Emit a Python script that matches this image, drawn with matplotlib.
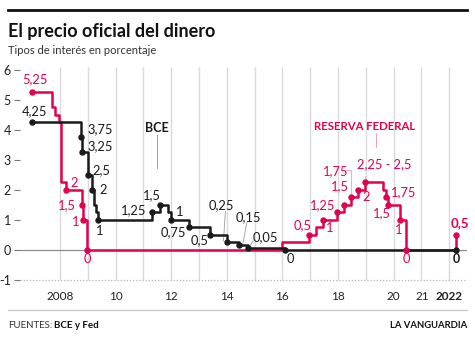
import matplotlib.pyplot as plt

plt.rcParams['font.family'] = ['Lato', 'DejaVu Sans']

RED = '#e3004f'
BLACK = '#1a1a1a'

# Tipos del BCE (fecha en años decimales, tipo en %)
ecb_x = [2007.0, 2008.75, 2008.8, 2009.02, 2009.15, 2009.24, 2009.3, 2009.36, 2011.32, 2011.6,
         2011.88, 2011.99, 2012.65, 2013.4, 2014.0, 2014.45, 2014.75, 2016.08, 2022.25]
ecb_y = [4.25, 3.75, 3.25, 2.5, 2.0, 1.5, 1.25, 1.0, 1.25, 1.5,
         1.25, 1.0, 0.75, 0.5, 0.25, 0.15, 0.05, 0, 0]
ecb_dots = [0, 1, 2, 3, 4, 7, 8, 9, 11, 12, 13, 14, 15, 16, 17, 18]

# Tipos de la Reserva Federal (limite inferior)
fed_x = [2007.0, 2007.72, 2007.82, 2007.96, 2008.04, 2008.2, 2008.8, 2008.84, 2008.96,
         2015.98, 2016.96, 2017.2, 2017.46, 2017.96, 2018.21, 2018.46, 2018.71, 2018.96,
         2019.63, 2019.72, 2019.8, 2020.23, 2020.45, 2022.25]
fed_y = [5.25, 4.75, 4.5, 4.25, 2.25, 2.0, 1.5, 1.0, 0,
         0.25, 0.5, 0.75, 1.0, 1.25, 1.5, 1.75, 2.0, 2.25,
         2.0, 1.75, 1.5, 1.0, 0, 0.5]
fed_dots = [0, 5, 6, 7, 8, 10, 12, 13, 14, 15, 16, 17, 19, 20, 21, 22, 23]

grid_years = list(range(2008, 2023))
xtick_pos = [2008, 2010, 2012, 2014, 2016, 2018, 2020, 2021.05, 2021.98]
xtick_lab = ['2008', '10', '12', '14', '16', '18', '20', '21', '2022']

# etiquetas: (texto, x, y)
ecb_labels = [('4,25', 2007.10, 4.63), ('3,75', 2009.44, 4.02), ('3,25', 2009.44, 3.47),
              ('2,5', 2009.5, 2.67), ('2', 2009.54, 1.98), ('1', 2009.41, 0.64),
              ('1,25', 2010.64, 1.31), ('1,5', 2011.30, 1.83), ('1', 2012.29, 1.28),
              ('0,75', 2012.08, 0.58), ('0,5', 2013.01, 0.33), ('0,25', 2013.82, 1.48),
              ('0,15', 2014.77, 1.09), ('0,05', 2015.37, 0.44), ('0', 2016.30, -0.31)]
fed_labels = [('5,25', 2007.10, 5.70), ('2', 2008.52, 2.22), ('1,5', 2008.24, 1.5),
              ('1', 2008.56, 0.94), ('0', 2008.98, -0.31), ('0,5', 2016.73, 0.83),
              ('1', 2017.71, 0.72), ('1,25', 2017.45, 1.5), ('1,5', 2018.07, 2.11),
              ('1,75', 2017.93, 2.61), ('2,25 - 2,5', 2019.65, 2.87), ('2', 2019.01, 1.76),
              ('1,75', 2020.35, 1.94), ('1,5', 2019.57, 1.22), ('1', 2020.17, 0.67),
              ('0', 2020.47, -0.31)]

fig = plt.figure(figsize=(4.75, 3.38), dpi=100)
W, H = 475, 338
ax = fig.add_axes([20 / W, (H - 285) / H, 447 / W, 225 / H])
ax.set_xlim(2006.561, 2022.64)
ax.set_ylim(-1.17, 6.33)
for s in ax.spines.values():
    s.set_visible(False)

ax.vlines(grid_years, -1, 6.1, color='#dadada', lw=1, zorder=0)
ax.axhline(0, color='#8c8c8c', lw=0.9, zorder=1)
ax.axhline(-1, color='#b5b5b5', lw=0.9, ls=(0, (1, 1.5)), zorder=1)

ax.step(ecb_x, ecb_y, where='post', color=BLACK, lw=1.8, zorder=3)
ax.plot([ecb_x[i] for i in ecb_dots], [ecb_y[i] for i in ecb_dots], 'o', color=BLACK, ms=3.6, zorder=4)
ax.step(fed_x, fed_y, where='post', color=RED, lw=1.8, zorder=2)
ax.plot([fed_x[i] for i in fed_dots], [fed_y[i] for i in fed_dots], 'o', color=RED, ms=3.6, zorder=4)

for t, x, y in ecb_labels:
    ax.text(x, y, t, color=BLACK, fontsize=9.3, ha='center', va='center', zorder=5)
for t, x, y in fed_labels:
    ax.text(x, y, t, color=RED, fontsize=9.3, ha='center', va='center', zorder=5)
ax.text(2022.27, -0.31, '0', color=BLACK, fontsize=9, fontweight='bold', ha='center', va='center')
ax.text(2022.39, 0.89, '0,5', color=RED, fontsize=9.5, fontweight='bold', ha='center', va='center')

# lineas guia
ax.plot([2013.95, 2013.88], [1.28, 0.3], color='#9a9a9a', lw=0.6)
ax.plot([2014.72, 2014.57], [0.9, 0.18], color='#9a9a9a', lw=0.6)
ax.plot([2014.95, 2014.8], [0.3, 0.09], color='#9a9a9a', lw=0.6)
ax.plot([2018.3, 2018.46, 2018.46], [2.68, 2.68, 1.85], color='#f2a0b8', lw=0.6)
ax.plot([2019.0, 2018.97], [2.45, 2.3], color='#f2a0b8', lw=0.6)
ax.plot([2011.48, 2011.48], [3.83, 2.73], color='#a0a0a0', lw=0.7)
ax.plot([2019.37, 2019.37], [3.9, 3.43], color='#f2a0b8', lw=0.7)

ax.text(2011.48, 4.06, 'BCE', color=BLACK, fontsize=9, fontweight='bold',
        ha='center', va='center')
ax.text(2018.97, 4.13, 'RESERVA FEDERAL', color=RED, fontsize=8.2, fontweight='bold',
        ha='center', va='center')

ax.set_yticks(range(-1, 7))
ax.set_yticklabels([str(v) for v in range(-1, 7)])
ax.tick_params(axis='y', length=4.5, width=0.8, color='#777777', labelsize=9, pad=2,
               labelcolor='#222222')
ax.set_xticks(xtick_pos)
ax.set_xticklabels(xtick_lab)
ax.tick_params(axis='x', length=0, labelsize=8.5, pad=4, labelcolor='#222222')
ax.get_xticklabels()[-1].set_fontweight('bold')

# cabecera y pie
fig.add_artist(plt.Line2D([8 / W, 467 / W], [1 - 10 / H, 1 - 10 / H], color='#111111', lw=2))
fig.text(8 / W, 1 - 31 / H, 'El precio oficial del dinero', fontsize=13, fontweight='bold',
         color='#111111', va='center')
fig.text(8 / W, 1 - 50 / H, 'Tipos de interés en porcentaje', fontsize=8, color='#333333',
         va='center')
fig.add_artist(plt.Line2D([8 / W, 467 / W], [1 - 310 / H, 1 - 310 / H], color='#c8c8c8', lw=0.9))
fig.text(8 / W, 1 - 326 / H, 'FUENTES:', fontsize=7, color='#333333', va='center')
fig.text(54 / W, 1 - 326 / H, 'BCE y Fed', fontsize=7, fontweight='bold', color='#111111', va='center')
fig.text(467 / W, 1 - 326 / H, 'LA VANGUARDIA', fontsize=6.8, fontweight='bold', color='#111111',
         va='center', ha='right')

plt.savefig('out.png', dpi=100)
